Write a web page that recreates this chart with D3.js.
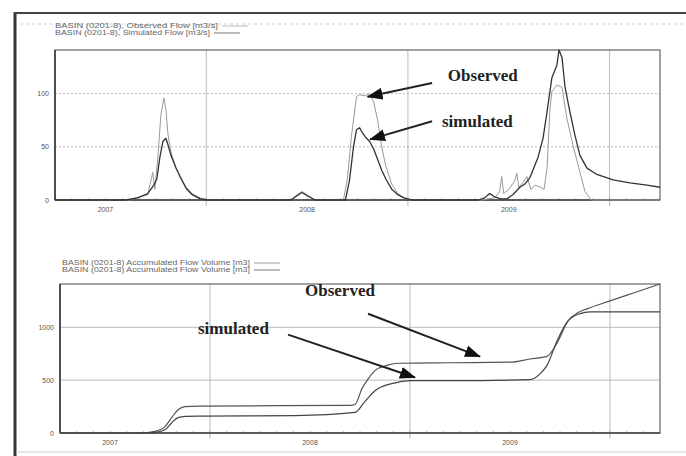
<!DOCTYPE html>
<html lang="en">
<head>
<meta charset="utf-8">
<title>Observed vs simulated flow</title>
<script src="https://d3js.org/d3.v7.min.js"></script>
<style>
  body { margin: 0; background: #fff; }
  svg { display: block; }
  .tick-label { font-family: "Liberation Sans", Arial, sans-serif; font-size: 7px; fill: #555; }
  .legend { font-family: "Liberation Sans", Arial, sans-serif; font-size: 6.5px; fill: #666; }
  .note { font-family: "Liberation Serif", "Times New Roman", serif; font-size: 17px; font-weight: bold; fill: #222; }
</style>
</head>
<body>
<div id="chart"></div>
<script>
// ---- data (decimal year, value) ----
const yearLabels = [2007, 2008, 2009];
const yearGrid = [2007.5, 2008.5, 2009.5];
const flowTicks = [0, 50, 100];
const volumeTicks = [0, 500, 1000];

const flowObserved = [
  [2006.75, 0], [2007.12, 0], [2007.17, 3], [2007.21, 5], [2007.235, 26], [2007.245, 10],
  [2007.26, 40], [2007.275, 80], [2007.29, 96], [2007.30, 85], [2007.31, 62], [2007.325, 45],
  [2007.35, 30], [2007.37, 22], [2007.40, 12], [2007.43, 6], [2007.47, 2], [2007.51, 0],
  [2007.92, 0], [2007.95, 5], [2007.975, 8], [2008.00, 5], [2008.04, 0],
  [2008.18, 0], [2008.20, 20], [2008.22, 60], [2008.245, 97], [2008.26, 99], [2008.29, 98],
  [2008.31, 100], [2008.33, 92], [2008.35, 75], [2008.37, 50], [2008.39, 32], [2008.42, 15],
  [2008.45, 6], [2008.48, 2], [2008.51, 0],
  [2008.86, 0], [2008.93, 2], [2008.955, 8], [2008.965, 22], [2008.975, 6], [2009.00, 10],
  [2009.03, 18], [2009.04, 25], [2009.05, 12], [2009.07, 16], [2009.09, 22], [2009.11, 10],
  [2009.13, 14], [2009.16, 12], [2009.175, 10], [2009.19, 30], [2009.204, 85], [2009.214, 102],
  [2009.239, 108], [2009.264, 106], [2009.288, 77], [2009.318, 52], [2009.353, 26],
  [2009.378, 8], [2009.408, 0], [2009.75, 0]
];
const flowSimulated = [
  [2006.75, 0], [2007.10, 0], [2007.16, 2], [2007.21, 6], [2007.24, 14], [2007.255, 20],
  [2007.27, 40], [2007.285, 55], [2007.30, 58], [2007.31, 52], [2007.325, 42], [2007.35, 30],
  [2007.37, 22], [2007.40, 11], [2007.43, 5], [2007.47, 1], [2007.51, 0],
  [2007.92, 0], [2007.95, 4], [2007.975, 7], [2008.00, 4], [2008.04, 0],
  [2008.19, 0], [2008.21, 18], [2008.23, 50], [2008.245, 66], [2008.26, 68], [2008.275, 63],
  [2008.29, 59], [2008.31, 55], [2008.33, 48], [2008.35, 38], [2008.37, 28], [2008.39, 20],
  [2008.42, 10], [2008.45, 5], [2008.48, 2], [2008.52, 0],
  [2008.85, 0], [2008.88, 2], [2008.905, 6], [2008.93, 3], [2008.96, 1], [2008.99, 1],
  [2009.02, 5], [2009.055, 12], [2009.08, 15], [2009.105, 21], [2009.145, 40], [2009.17, 58],
  [2009.19, 83], [2009.214, 115], [2009.239, 127], [2009.249, 141], [2009.264, 134],
  [2009.279, 106], [2009.303, 83], [2009.328, 61], [2009.353, 42], [2009.388, 30],
  [2009.437, 24], [2009.517, 19], [2009.601, 16], [2009.685, 14], [2009.75, 12]
];

const volumeObserved = [
  [2006.75, 0], [2007.15, 0], [2007.225, 15], [2007.275, 60], [2007.31, 150], [2007.34, 220],
  [2007.375, 250], [2007.45, 255], [2008.20, 262], [2008.225, 270], [2008.26, 420],
  [2008.29, 510], [2008.325, 590], [2008.385, 640], [2008.45, 660], [2008.70, 665],
  [2009.00, 670], [2009.10, 700], [2009.185, 725], [2009.235, 850], [2009.29, 1060],
  [2009.34, 1140], [2009.385, 1175], [2009.50, 1250], [2009.625, 1330], [2009.75, 1410]
];
const volumeSimulated = [
  [2006.75, 0], [2007.15, 0], [2007.225, 5], [2007.275, 30], [2007.31, 100], [2007.34, 145],
  [2007.375, 158], [2007.45, 160], [2007.925, 165], [2008.225, 195], [2008.275, 300],
  [2008.325, 400], [2008.415, 470], [2008.50, 495], [2008.70, 495], [2009.10, 505],
  [2009.15, 560], [2009.185, 640], [2009.235, 870], [2009.29, 1060], [2009.35, 1130],
  [2009.40, 1147], [2009.75, 1147]
];

// annotations: [label, textX, textY, arrowFrom, arrowTo] in data units
const flowNotes = [
  ["Observed", 2008.698, 112, [2008.62, 110], [2008.30, 97]],
  ["simulated", 2008.669, 69, [2008.62, 74], [2008.312, 57]]
];
const volumeNotes = [
  ["Observed", 2007.975, 1299, [2008.29, 1129], [2008.85, 723]],
  ["simulated", 2007.44, 940, [2007.89, 931], [2008.525, 525]]
];

// ---- canvas ----
const svg = d3.select("#chart").append("svg")
  .attr("width", 686).attr("height", 456);

svg.append("defs").append("marker")
  .attr("id", "head")
  .attr("markerUnits", "userSpaceOnUse")
  .attr("viewBox", "0 0 16 12")
  .attr("refX", 15).attr("refY", 6)
  .attr("markerWidth", 16).attr("markerHeight", 12)
  .attr("orient", "auto")
  .append("path").attr("d", "M0,0 L16,6 L0,12 Z").attr("fill", "#111");

// outer frame
svg.append("line").attr("x1", 15).attr("x2", 15).attr("y1", 12).attr("y2", 456)
  .attr("stroke", "#333").attr("stroke-width", 3);
svg.append("line").attr("x1", 14).attr("x2", 686).attr("y1", 13).attr("y2", 13)
  .attr("stroke", "#444").attr("stroke-width", 2);
svg.append("line").attr("x1", 16).attr("x2", 686).attr("y1", 452).attr("y2", 452)
  .attr("stroke", "#ccc").attr("stroke-width", 1);
svg.append("line").attr("x1", 20).attr("x2", 686).attr("y1", 24).attr("y2", 24)
  .attr("stroke", "#ccc").attr("stroke-dasharray", "3,3");

function panel(cfg) {
  const { x, y, yTicks, series, notes, legend, curve, gridDash } = cfg;
  const g = svg.append("g");
  const [x0, x1] = x.range();
  const [y0, y1] = y.range();

  // grid
  g.append("g").selectAll("line").data(yTicks.slice(1)).join("line")
    .attr("x1", x0).attr("x2", x1)
    .attr("y1", d => y(d)).attr("y2", d => y(d))
    .attr("stroke", "#aaa").attr("stroke-width", 0.8)
    .attr("stroke-dasharray", gridDash);
  g.append("g").selectAll("line").data(yearGrid).join("line")
    .attr("x1", d => x(d)).attr("x2", d => x(d))
    .attr("y1", y1).attr("y2", y0 + 6)
    .attr("stroke", "#aaa").attr("stroke-width", 0.8);

  // monthly ticks
  const months = d3.range(x.domain()[0], x.domain()[1] + 0.001, 1 / 12);
  g.append("g").selectAll("line").data(months).join("line")
    .attr("x1", d => x(d)).attr("x2", d => x(d))
    .attr("y1", y0).attr("y2", y0 - 2)
    .attr("stroke", "#888").attr("stroke-width", 0.6);

  // frame
  g.append("rect").attr("x", x0).attr("y", y1)
    .attr("width", x1 - x0).attr("height", y0 - y1)
    .attr("fill", "none").attr("stroke", "#666").attr("stroke-width", 1.2);
  g.append("line").attr("x1", x0).attr("x2", x0).attr("y1", y1).attr("y2", y0)
    .attr("stroke", "#333").attr("stroke-width", 1.5);
  g.append("line").attr("x1", x0).attr("x2", x1).attr("y1", y0).attr("y2", y0)
    .attr("stroke", "#444").attr("stroke-width", 1.3);

  // tick labels
  g.append("g").selectAll("text").data(yTicks).join("text")
    .attr("class", "tick-label")
    .attr("x", x0 - 6).attr("y", d => y(d) + 2.5)
    .attr("text-anchor", "end").text(d => d);
  g.append("g").selectAll("text").data(yearLabels).join("text")
    .attr("class", "tick-label")
    .attr("x", d => x(d)).attr("y", y0 + 12)
    .attr("text-anchor", "middle").text(d => d);

  // series
  const line = d3.line().x(d => x(d[0])).y(d => y(d[1])).curve(curve);
  series.forEach(s => {
    g.append("path").attr("d", line(s.values))
      .attr("fill", "none").attr("stroke", s.color)
      .attr("stroke-width", s.width).attr("stroke-linejoin", "round");
  });

  // legend
  legend.forEach(l => {
    g.append("text").attr("class", "legend")
      .attr("x", l.x).attr("y", l.y)
      .attr("textLength", l.w).attr("lengthAdjust", "spacingAndGlyphs")
      .text(l.text);
    g.append("line").attr("x1", l.x + l.w + 4).attr("x2", l.x + l.w + 30)
      .attr("y1", l.y - 2).attr("y2", l.y - 2)
      .attr("stroke", l.color).attr("stroke-width", 0.8);
  });

  // notes
  notes.forEach(([label, tx, ty, from, to]) => {
    g.append("line")
      .attr("x1", x(from[0])).attr("y1", y(from[1]))
      .attr("x2", x(to[0])).attr("y2", y(to[1]))
      .attr("stroke", "#222").attr("stroke-width", 2)
      .attr("marker-end", "url(#head)");
    g.append("text").attr("class", "note")
      .attr("x", x(tx)).attr("y", y(ty)).text(label);
  });
}

panel({
  x: d3.scaleLinear().domain([2006.75, 2009.75]).range([55, 660]),
  y: d3.scaleLinear().domain([0, 141]).range([200, 50]),
  yTicks: flowTicks,
  gridDash: "2,2",
  curve: d3.curveLinear,
  series: [
    { values: flowObserved, color: "#999", width: 1 },
    { values: flowSimulated, color: "#333", width: 1.3 }
  ],
  notes: flowNotes,
  legend: [
    { x: 55, y: 28, w: 163, text: "BASIN (0201-8), Observed Flow [m3/s]", color: "#aaa" },
    { x: 55, y: 35, w: 155, text: "BASIN (0201-8), Simulated Flow [m3/s]", color: "#555" }
  ]
});

panel({
  x: d3.scaleLinear().domain([2006.75, 2009.75]).range([60, 660]),
  y: d3.scaleLinear().domain([0, 1410]).range([433, 284]),
  yTicks: volumeTicks,
  gridDash: null,
  curve: d3.curveMonotoneX,
  series: [
    { values: volumeObserved, color: "#555", width: 1.2 },
    { values: volumeSimulated, color: "#444", width: 1.2 }
  ],
  notes: volumeNotes,
  legend: [
    { x: 62, y: 265, w: 188, text: "BASIN (0201-8) Accumulated Flow Volume [m3]", color: "#888" },
    { x: 62, y: 272, w: 188, text: "BASIN (0201-8) Accumulated Flow Volume [m3]", color: "#555" }
  ]
});
</script>
</body>
</html>
